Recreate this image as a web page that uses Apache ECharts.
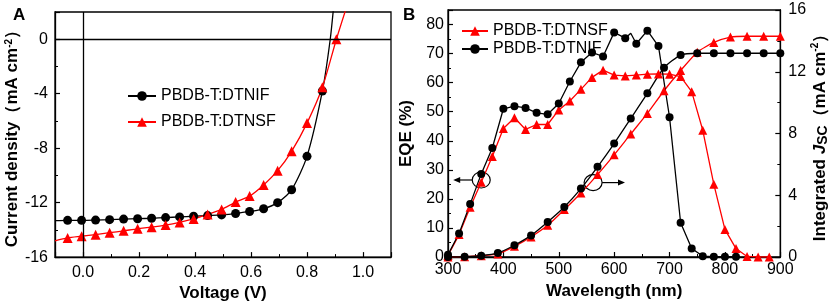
<!DOCTYPE html>
<html>
<head>
<meta charset="utf-8">
<script src="https://cdn.jsdelivr.net/npm/echarts@6/dist/echarts.min.js"></script>
<style>
  html, body { margin: 0; padding: 0; background: #fff; }
  #myChart { width: 831px; height: 307px; }
</style>
</head>
<body>
<div id="myChart"></div>
<script>
// ---- panel A: J-V curves ----
var jvVoltageDTNIF = [-0.055, -0.005, 0.045, 0.095, 0.145, 0.195, 0.245, 0.295, 0.345, 0.395, 0.445, 0.495, 0.545, 0.595, 0.645, 0.695, 0.745, 0.800, 0.855];
var jvDTNIF = [-13.30, -13.30, -13.28, -13.25, -13.21, -13.18, -13.15, -13.10, -13.05, -13.00, -12.95, -12.90, -12.80, -12.65, -12.45, -12.00, -11.05, -8.60, -3.80];
var jvVoltageDTNSF = [-0.055, -0.005, 0.045, 0.095, 0.145, 0.195, 0.245, 0.295, 0.345, 0.395, 0.445, 0.495, 0.545, 0.595, 0.645, 0.695, 0.745, 0.800, 0.855, 0.905];
var jvDTNSF = [-14.59, -14.47, -14.35, -14.21, -14.07, -13.92, -13.80, -13.65, -13.45, -13.20, -12.87, -12.50, -11.96, -11.52, -10.70, -9.65, -8.23, -6.16, -3.53, 0.00];
// curve ends drawn without a marker (line only)
var jvTailDTNIF = { start: [-0.1, -13.32], end: [[0.883, 0.0], [0.897, 2.8]] };
var jvTailDTNSF = { start: [-0.1, -14.80], end: [[0.945, 2.6]] };

// ---- panel B: EQE and integrated Jsc ----
var eqeWlDTNIF = [300, 320, 340, 360, 380, 400, 420, 440, 460, 480, 500, 520, 540, 560, 580, 600, 620, 630, 640, 660, 680, 700, 720, 740, 760, 780, 800, 820];
var eqeDTNIF = [0.8, 8.1, 18.2, 28.6, 37.5, 51.0, 51.9, 51.3, 49.6, 49.1, 52.8, 60.4, 67.0, 70.4, 69.0, 77.3, 75.3, 77.0, 73.4, 77.9, 72.6, 48.1, 11.8, 2.9, 0.3, 0.1, 0.1, 0.1];
var eqeNoMarkerDTNIF = [630];
var eqeWlDTNSF = [300, 320, 340, 360, 380, 400, 420, 440, 460, 480, 500, 520, 540, 560, 580, 600, 620, 640, 660, 680, 700, 720, 740, 760, 780, 800, 820, 840, 860, 880];
var eqeDTNSF = [0.5, 7.7, 17.1, 25.7, 34.6, 44.2, 47.9, 43.9, 45.6, 45.6, 50.6, 53.7, 57.7, 61.8, 64.3, 62.6, 62.3, 62.6, 62.9, 63.0, 62.9, 62.1, 56.9, 43.6, 25.0, 9.5, 2.9, 0.2, 0.0, 0.0];
var jscWl = [300, 330, 360, 390, 420, 450, 480, 510, 540, 570, 600, 630, 660, 690, 720, 750, 780, 810, 840, 870, 900];
var jscDTNIF = [0, 0.02, 0.08, 0.26, 0.76, 1.40, 2.27, 3.24, 4.43, 5.84, 7.35, 8.97, 10.60, 12.26, 13.08, 13.20, 13.20, 13.20, 13.20, 13.20, 13.20];
var jscDTNSF = [0, 0.02, 0.08, 0.20, 0.69, 1.30, 2.05, 3.07, 4.15, 5.34, 6.62, 7.97, 9.30, 10.77, 12.08, 13.27, 13.90, 14.25, 14.30, 14.30, 14.30];
// ellipse centre and arrow tip: [wl, eqe, tipWl, tipEqe]
var annotations = [[360, 26.5, 313, 26.5], [562, 25.6, 616, 25.6]];

var nameDTNIF = 'PBDB-T:DTNIF';
var nameDTNSF = 'PBDB-T:DTNSF';

function pairs(xs, ys, skip) {
	return xs.map(function (x, i) {
		if (skip && skip.indexOf(x) >= 0) return { value: [x, ys[i]], symbol: 'none' };
		return [x, ys[i]];
	});
}
function withTails(data, tail) {
	var out = [{ value: tail.start, symbol: 'none' }].concat(data);
	tail.end.forEach(function (p) { out.push({ value: p, symbol: 'none' }); });
	return out;
}

var FONT = '"Liberation Sans", Arial, sans-serif';
var axisLine = { show: true, onZero: false, lineStyle: { color: '#000', width: 1.3 } };
var tick = { inside: true, length: 5, lineStyle: { color: '#000', width: 1.2 } };
var minor = { show: true, splitNumber: 2, length: 3, lineStyle: { color: '#000', width: 1 } };
var label = { color: '#000', fontSize: 16, fontFamily: FONT };
var nameStyle = {
	color: '#000', fontSize: 17, fontWeight: 'bold', fontFamily: FONT,
	rich: {
		sup: { fontSize: 10, fontWeight: 'bold', verticalAlign: 'top', fontFamily: FONT, lineHeight: 12 },
		sub: { fontSize: 14, fontWeight: 'bold', verticalAlign: 'bottom', fontFamily: FONT, padding: [6, 0, 0, 0] },
		it: { fontSize: 17, fontWeight: 'bold', fontStyle: 'italic', fontFamily: FONT }
	}
};

var myChart = echarts.init(document.getElementById('myChart'), null, { renderer: 'canvas' });

var lineCommon = { type: 'line', smooth: 0.25, clip: true, showAllSymbol: true, animation: false };

var option = {
	backgroundColor: '#fff',
	textStyle: { fontFamily: FONT },
	title: [
		{ text: 'A', left: 8, top: 2, textStyle: { fontSize: 17, fontWeight: 'bold', color: '#000', fontFamily: FONT } },
		{ text: 'B', left: 398, top: 2, textStyle: { fontSize: 17, fontWeight: 'bold', color: '#000', fontFamily: FONT } }
	],
	legend: [
		{
			data: [nameDTNIF, nameDTNSF], orient: 'vertical', left: 122, top: 83,
			itemWidth: 28, itemHeight: 12, itemGap: 10,
			textStyle: { fontSize: 16, color: '#000', fontFamily: FONT }
		},
		{
			data: [nameDTNSF, nameDTNIF], orient: 'vertical', left: 456, top: 18,
			itemWidth: 26, itemHeight: 12, itemGap: 2,
			textStyle: { fontSize: 16, color: '#000', fontFamily: FONT }
		}
	],
	grid: [
		{ left: 55, top: 12, width: 336, height: 246, show: true, borderColor: '#000', borderWidth: 1.3, backgroundColor: 'transparent' },
		{ left: 448, top: 10, width: 335, height: 247, show: true, borderColor: '#000', borderWidth: 1.3, backgroundColor: 'transparent' }
	],
	xAxis: [
		{
			gridIndex: 0, type: 'value', min: -0.1, max: 1.1, splitNumber: 6,
			name: 'Voltage (V)', nameLocation: 'middle', nameGap: 19, nameTextStyle: nameStyle,
			axisLine: axisLine, axisTick: tick, minorTick: minor, splitLine: { show: false },
			axisLabel: Object.assign({ margin: 7, showMinLabel: false, showMaxLabel: false, formatter: function (v) { return v.toFixed(1); } }, label)
		},
		{
			gridIndex: 1, type: 'value', min: 300, max: 900, interval: 100,
			name: 'Wavelength (nm)', nameLocation: 'middle', nameGap: 19, nameTextStyle: nameStyle,
			axisLine: axisLine, axisTick: tick, minorTick: minor, splitLine: { show: false },
			axisLabel: Object.assign({ margin: 5 }, label)
		}
	],
	yAxis: [
		{
			gridIndex: 0, type: 'value', min: -16, max: 2, interval: 4,
			name: 'Current density（mA cm{sup|-2}）', nameLocation: 'middle', nameGap: 33, nameRotate: 90, nameTextStyle: nameStyle,
			axisLine: axisLine, axisTick: tick, minorTick: minor, splitLine: { show: false },
			axisLabel: Object.assign({ margin: 7, showMaxLabel: false }, label)
		},
		{
			gridIndex: 1, type: 'value', min: 0, max: 85, interval: 10,
			name: 'EQE (%)', nameLocation: 'middle', nameGap: 33, nameRotate: 90, nameTextStyle: nameStyle,
			axisLine: axisLine, axisTick: tick, minorTick: minor, splitLine: { show: false },
			axisLabel: Object.assign({ margin: 4, showMaxLabel: false }, label)
		},
		{
			gridIndex: 1, type: 'value', position: 'right', min: 0, max: 16, interval: 4,
			name: 'Integrated {it|J}{sub|SC}（mA cm{sup|-2}）', nameLocation: 'middle', nameGap: 27, nameRotate: 90, nameTextStyle: nameStyle,
			axisLine: axisLine, axisTick: tick, minorTick: minor, splitLine: { show: false },
			axisLabel: Object.assign({ margin: 8 }, label)
		}
	],
	series: [
		Object.assign({}, lineCommon, {
			name: nameDTNIF, xAxisIndex: 0, yAxisIndex: 0,
			symbol: 'circle', symbolSize: 9, color: '#000',
			lineStyle: { color: '#000', width: 1.3 },
			data: withTails(pairs(jvVoltageDTNIF, jvDTNIF), jvTailDTNIF),
			markLine: {
				silent: true, symbol: ['none', 'none'], label: { show: false },
				lineStyle: { color: '#000', width: 1.3, type: 'solid' },
				data: [{ xAxis: 0 }, { yAxis: 0 }]
			}
		}),
		Object.assign({}, lineCommon, {
			name: nameDTNSF, xAxisIndex: 0, yAxisIndex: 0,
			symbol: 'triangle', symbolSize: 10, color: '#ff0000',
			lineStyle: { color: '#ff0000', width: 1.3 },
			data: withTails(pairs(jvVoltageDTNSF, jvDTNSF), jvTailDTNSF)
		}),
		Object.assign({}, lineCommon, {
			name: nameDTNSF, xAxisIndex: 1, yAxisIndex: 1, smooth: false,
			symbol: 'triangle', symbolSize: 9, color: '#ff0000',
			lineStyle: { color: '#ff0000', width: 1.3 },
			data: pairs(eqeWlDTNSF, eqeDTNSF)
		}),
		Object.assign({}, lineCommon, {
			name: nameDTNSF, xAxisIndex: 1, yAxisIndex: 2, smooth: 0.2,
			symbol: 'triangle', symbolSize: 9, color: '#ff0000',
			lineStyle: { color: '#ff0000', width: 1.3 },
			data: pairs(jscWl, jscDTNSF)
		}),
		Object.assign({}, lineCommon, {
			name: nameDTNIF, xAxisIndex: 1, yAxisIndex: 1, smooth: false,
			symbol: 'circle', symbolSize: 8, color: '#000',
			lineStyle: { color: '#000', width: 1.3 },
			data: pairs(eqeWlDTNIF, eqeDTNIF, eqeNoMarkerDTNIF)
		}),
		Object.assign({}, lineCommon, {
			name: nameDTNIF, xAxisIndex: 1, yAxisIndex: 2, smooth: 0.2,
			symbol: 'circle', symbolSize: 8, color: '#000',
			lineStyle: { color: '#000', width: 1.3 },
			data: pairs(jscWl, jscDTNIF)
		}),
		{
			type: 'custom', name: 'annotations', xAxisIndex: 1, yAxisIndex: 1, silent: true, animation: false,
			encode: { x: [0, 2], y: [1, 3] },
			data: annotations,
			renderItem: function (params, api) {
				var c = api.coord([api.value(0), api.value(1)]);
				var t = api.coord([api.value(2), api.value(3)]);
				var rx = 9, ry = 8;
				var s = t[0] < c[0] ? -1 : 1;
				var stroke = { stroke: '#000', lineWidth: 1.2, fill: 'none' };
				return {
					type: 'group',
					children: [
						{ type: 'ellipse', shape: { cx: c[0], cy: c[1], rx: rx, ry: ry }, style: stroke },
						{ type: 'line', shape: { x1: c[0] + s * rx, y1: c[1], x2: t[0], y2: t[1] }, style: stroke },
						{ type: 'polygon', shape: { points: [[t[0] + s * 2, t[1]], [t[0] - s * 5, t[1] - 3], [t[0] - s * 5, t[1] + 3]] }, style: { fill: '#000' } }
					]
				};
			}
		}
	]
};

window.onresize = myChart.resize;
myChart.setOption(option);
</script>
</body>
</html>
